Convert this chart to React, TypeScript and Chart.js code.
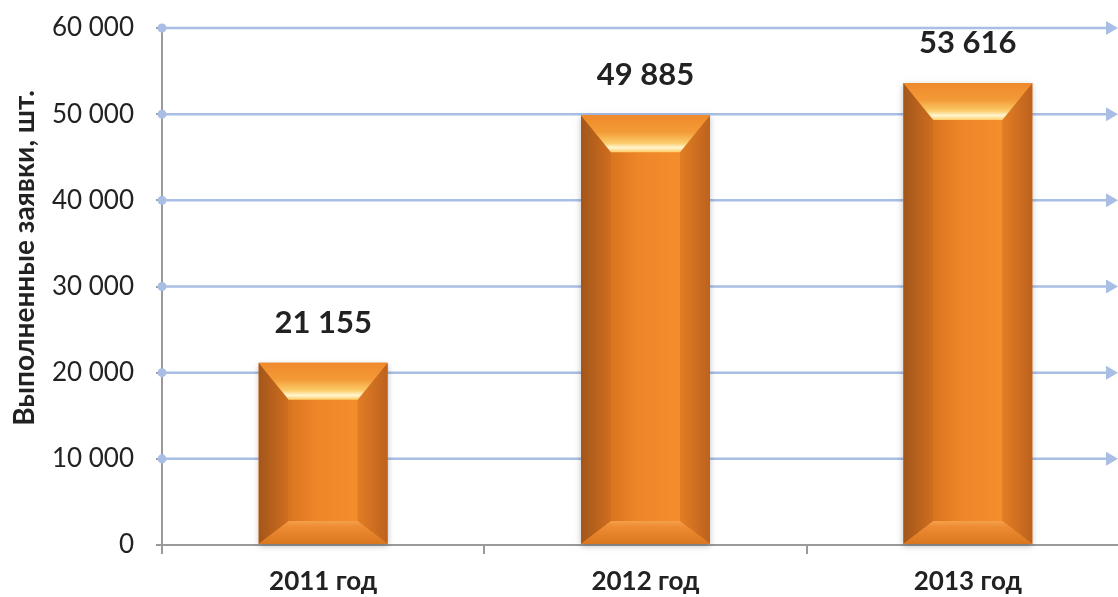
import React, { useEffect, useRef } from "react";
import { Chart, registerables } from "chart.js";

Chart.register(...registerables);

const categories = ["2011 год", "2012 год", "2013 год"];
const values = [21155, 49885, 53616];
const yTicks = [0, 10000, 20000, 30000, 40000, 50000, 60000];
const yTitle = "Выполненные заявки, шт.";

const fmt = (v: number) => String(v).replace(/\B(?=(\d{3})+(?!\d))/g, " ");

const FONT = "Lato, 'Open Sans', sans-serif";

const gridPlugin = {
  id: "gridDeco",
  beforeDatasetsDraw(chart: any) {
    const { ctx, chartArea, scales } = chart;
    const y = scales.y;
    ctx.save();
    yTicks.forEach((t) => {
      if (t === 0) return;
      const py = y.getPixelForValue(t);
      ctx.strokeStyle = "#A9BEE4";
      ctx.lineWidth = 2.5;
      ctx.beginPath();
      ctx.moveTo(chartArea.left, py);
      ctx.lineTo(1108, py);
      ctx.stroke();
      ctx.fillStyle = "#A9BEE4";
      ctx.beginPath();
      ctx.moveTo(1118, py);
      ctx.lineTo(1106, py - 7);
      ctx.lineTo(1106, py + 7);
      ctx.closePath();
      ctx.fill();
      ctx.beginPath();
      ctx.arc(chartArea.left, py, 4.5, 0, Math.PI * 2);
      ctx.fill();
    });
    // y-axis title
    ctx.save();
    ctx.translate(25, 258);
    ctx.rotate(-Math.PI / 2);
    ctx.fillStyle = "#222222";
    ctx.font = `bold 28px ${FONT}`;
    ctx.textAlign = "center";
    ctx.textBaseline = "middle";
    ctx.fillText(yTitle, 0, 0);
    ctx.restore();
    ctx.restore();
  },
};

const bevelPlugin = {
  id: "bevelBars",
  afterDatasetsDraw(chart: any) {
    const { ctx } = chart;
    const meta = chart.getDatasetMeta(0);
    ctx.save();
    meta.data.forEach((bar: any, i: number) => {
      const L = bar.x - bar.width / 2;
      const R = bar.x + bar.width / 2;
      const T = bar.y;
      const B = bar.base;
      const bx = 30;
      const tb = 37;
      const bb = 23;
      ctx.save();
      ctx.shadowColor = "rgba(0,0,0,0.25)";
      ctx.shadowBlur = 6;
      ctx.shadowOffsetY = 2;
      ctx.fillStyle = "#E8822A";
      ctx.fillRect(L, T, R - L, B - T);
      ctx.restore();
      let g = ctx.createLinearGradient(L + bx, 0, R - bx, 0);
      g.addColorStop(0, "#D9741F");
      g.addColorStop(0.4, "#EE8629");
      g.addColorStop(1, "#F48D2C");
      ctx.fillStyle = g;
      ctx.fillRect(L + bx, T + tb, R - L - 2 * bx, B - T - tb - bb);
      g = ctx.createLinearGradient(L, 0, L + bx, 0);
      g.addColorStop(0, "#A3561A");
      g.addColorStop(1, "#CF6E1F");
      ctx.fillStyle = g;
      ctx.beginPath();
      ctx.moveTo(L, T);
      ctx.lineTo(L + bx, T + tb);
      ctx.lineTo(L + bx, B - bb);
      ctx.lineTo(L, B);
      ctx.closePath();
      ctx.fill();
      g = ctx.createLinearGradient(R - bx, 0, R, 0);
      g.addColorStop(0, "#E37D25");
      g.addColorStop(1, "#BC621D");
      ctx.fillStyle = g;
      ctx.beginPath();
      ctx.moveTo(R, T);
      ctx.lineTo(R, B);
      ctx.lineTo(R - bx, B - bb);
      ctx.lineTo(R - bx, T + tb);
      ctx.closePath();
      ctx.fill();
      g = ctx.createLinearGradient(0, T, 0, T + tb);
      g.addColorStop(0, "#EF8A2C");
      g.addColorStop(0.45, "#F39A36");
      g.addColorStop(0.75, "#FBCB68");
      g.addColorStop(0.88, "#FFF6D0");
      g.addColorStop(1, "#FFCC66");
      ctx.fillStyle = g;
      ctx.beginPath();
      ctx.moveTo(L, T);
      ctx.lineTo(R, T);
      ctx.lineTo(R - bx, T + tb);
      ctx.lineTo(L + bx, T + tb);
      ctx.closePath();
      ctx.fill();
      g = ctx.createLinearGradient(0, B - bb, 0, B);
      g.addColorStop(0, "#F5A04A");
      g.addColorStop(0.25, "#EE8C34");
      g.addColorStop(1, "#D9761F");
      ctx.fillStyle = g;
      ctx.beginPath();
      ctx.moveTo(L, B);
      ctx.lineTo(R, B);
      ctx.lineTo(R - bx, B - bb);
      ctx.lineTo(L + bx, B - bb);
      ctx.closePath();
      ctx.fill();
      ctx.fillStyle = "#222222";
      ctx.font = `bold 31px ${FONT}`;
      ctx.textAlign = "center";
      ctx.textBaseline = "middle";
      ctx.fillText(fmt(values[i]), bar.x, T - 40);
    });
    ctx.restore();
  },
};

export default function App() {
  const ref = useRef<HTMLCanvasElement>(null);
  useEffect(() => {
    if (!ref.current) return;
    const chart = new Chart(ref.current, {
      type: "bar",
      data: {
        labels: categories,
        datasets: [
          {
            data: values,
            backgroundColor: "rgba(0,0,0,0)",
            categoryPercentage: 1,
            barPercentage: 0.4,
          },
        ],
      },
      options: {
        responsive: false,
        animation: false,
        layout: { padding: { top: 28, right: 11, left: 0, bottom: 0 } },
        plugins: { legend: { display: false }, tooltip: { enabled: false } },
        scales: {
          x: {
            grid: {
              display: true,
              drawOnChartArea: false,
              offset: true,
              tickLength: 9,
              tickColor: "#9A9A9A",
              lineWidth: 2,
            },
            border: { color: "#9A9A9A", width: 2 },
            ticks: {
              color: "#222222",
              font: { family: FONT, size: 26, weight: "bold" },
              padding: 12,
            },
            afterFit: (s: any) => {
              s.height = 52;
              s.paddingLeft = 0;
              s.paddingRight = 0;
            },
          },
          y: {
            min: 0,
            max: 60000,
            grid: {
              drawOnChartArea: false,
              tickLength: 6,
              tickColor: "#9A9A9A",
              lineWidth: 2,
            },
            border: { color: "#9A9A9A", width: 2 },
            afterBuildTicks: (s: any) => {
              s.ticks = yTicks.map((v) => ({ value: v }));
            },
            ticks: {
              color: "#222222",
              font: { family: FONT, size: 26 },
              padding: 22,
              callback: (v: any) => fmt(Number(v)),
            },
            afterFit: (s: any) => {
              s.width = 162;
              s.paddingTop = 0;
              s.paddingBottom = 0;
            },
          },
        },
      },
      plugins: [gridPlugin, bevelPlugin],
    });
    return () => chart.destroy();
  }, []);
  return (
    <div
      style={{
        position: "fixed",
        left: 0,
        top: 0,
        width: 1118,
        height: 597,
        overflow: "hidden",
        background: "#fff",
      }}
    >
      <canvas ref={ref} width={1140} height={597} style={{ display: "block" }} />
    </div>
  );
}
